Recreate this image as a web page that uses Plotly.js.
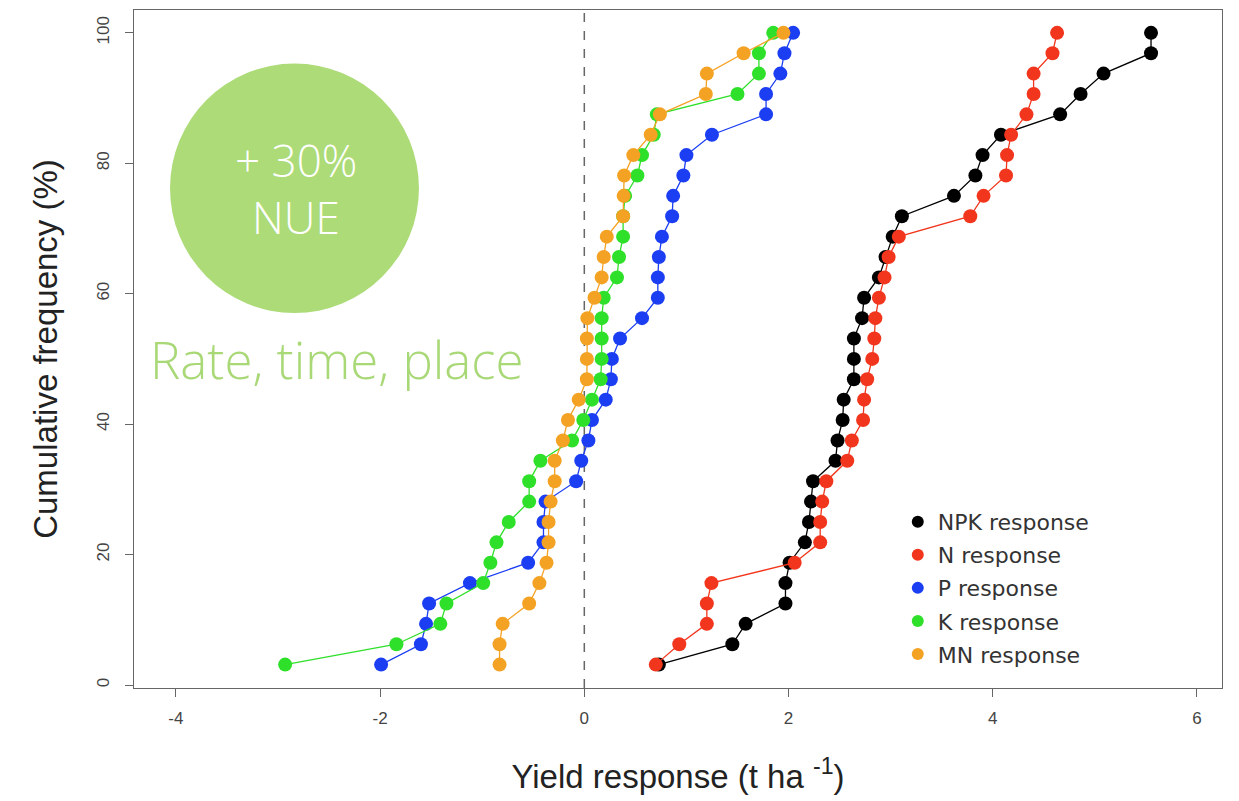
<!DOCTYPE html>
<html>
<head>
<meta charset="utf-8">
<script src="https://cdn.plot.ly/plotly-3.0.1.min.js"></script>
<style>html,body{margin:0;padding:0;background:#fff}#chart{width:1239px;height:801px}</style>
</head>
<body>
<div id="chart"></div>
<script>
const cumFreq = [3.125,6.25,9.375,12.5,15.625,18.75,21.875,25,28.125,31.25,34.375,37.5,40.625,43.75,46.875,50,53.125,56.25,59.375,62.5,65.625,68.75,71.875,75,78.125,81.25,84.375,87.5,90.625,93.75,96.875,100];
const npkResponse = [0.73,1.45,1.58,1.97,1.97,2.01,2.16,2.20,2.22,2.24,2.46,2.48,2.53,2.54,2.64,2.64,2.64,2.72,2.74,2.885,2.95,3.02,3.11,3.62,3.83,3.90,4.08,4.66,4.86,5.085,5.55,5.55];
const nResponse = [0.70,0.93,1.20,1.20,1.245,2.06,2.31,2.31,2.33,2.37,2.575,2.62,2.73,2.74,2.77,2.82,2.84,2.85,2.885,2.94,2.98,3.08,3.78,3.91,4.13,4.14,4.18,4.33,4.40,4.40,4.585,4.63];
const pResponse = [-1.99,-1.60,-1.55,-1.52,-1.12,-0.55,-0.40,-0.40,-0.38,-0.08,-0.03,0.04,0.075,0.21,0.26,0.27,0.35,0.565,0.72,0.72,0.73,0.76,0.86,0.87,0.97,1.00,1.25,1.78,1.78,1.92,1.96,2.045];
const kResponse = [-2.93,-1.84,-1.41,-1.35,-0.99,-0.92,-0.86,-0.74,-0.54,-0.54,-0.43,-0.12,-0.01,0.075,0.16,0.17,0.17,0.17,0.19,0.32,0.34,0.38,0.38,0.40,0.52,0.565,0.68,0.71,1.50,1.71,1.71,1.85];
const mnResponse = [-0.83,-0.83,-0.80,-0.54,-0.44,-0.37,-0.35,-0.35,-0.33,-0.29,-0.29,-0.21,-0.16,-0.055,0.025,0.025,0.025,0.03,0.10,0.17,0.19,0.22,0.38,0.385,0.39,0.48,0.65,0.74,1.19,1.20,1.56,1.95];

const seriesNames = ["NPK response","N response","P response","K response","MN response"];
const seriesValues = [npkResponse,nResponse,pResponse,kResponse,mnResponse];
const seriesColors = ["#000000","#f2361d","#1c3ef2","#2fe02a","#f4a223"];

const traces = [];
seriesNames.forEach((name,i)=>{
  traces.push({
    type:"scatter", mode:"lines", name:name, showlegend:false,
    x:seriesValues[i], y:cumFreq, legendgroup:"g"+i,
    line:{color:seriesColors[i], width:1.3}
  });
  traces.push({
    type:"scatter", mode:"markers", name:name, showlegend:true,
    x:seriesValues[i], y:cumFreq, legendgroup:"g"+i,
    marker:{color:seriesColors[i], size:14}
  });
});

const axisFont = {family:"Liberation Sans, Arial, sans-serif", size:17, color:"#444"};
const layout = {
  width:1239, height:801,
  margin:{l:134, r:17, t:10, b:113},
  paper_bgcolor:"#fff", plot_bgcolor:"#fff",
  showlegend:true,
  legend:{x:0.702, xanchor:"left", y:0.276, yanchor:"top", bgcolor:"rgba(0,0,0,0)",
    font:{family:"DejaVu Sans, sans-serif", size:22, color:"#333"},
    tracegroupgap:1.5, traceorder:"grouped", itemsizing:"constant"},
  xaxis:{range:[-4.41,6.245], tickvals:[-4,-2,0,2,4,6], ticktext:["-4","-2","0","2","4","6"],
    showgrid:false, zeroline:false, showline:true, mirror:true, linecolor:"#666", linewidth:1.2,
    ticks:"outside", ticklen:8, tickcolor:"#666", tickfont:axisFont, ticklabelstandoff:6,
    title:{text:"Yield response (t ha <sup>-1</sup>)", font:{family:"Liberation Sans, Arial, sans-serif", size:33, color:"#222"}, standoff:38}},
  yaxis:{range:[-0.46,103.5], tickvals:[0,20,40,60,80,100], ticktext:["0","20","40","60","80","100"],
    tickangle:-90,
    showgrid:false, zeroline:false, showline:true, mirror:true, linecolor:"#666", linewidth:1.2,
    ticks:"outside", ticklen:8, tickcolor:"#666", tickfont:axisFont, ticklabelstandoff:9,
    title:{text:"Cumulative frequency (%)", font:{family:"Liberation Sans, Arial, sans-serif", size:33, color:"#222"}, standoff:26}},
  shapes:[
    {type:"line", xref:"x", yref:"paper", x0:0, x1:0, y0:0, y1:1, line:{color:"#666", width:1.5, dash:"dash"}, layer:"below"},
    {type:"circle", xref:"paper", yref:"paper", x0:0.0331, x1:0.2619, y0:0.553, y1:0.921, fillcolor:"#acdb78", line:{width:0}}
  ],
  annotations:[
    {xref:"paper", yref:"paper", x:0.149, y:0.779, text:"+ 30%", showarrow:false, xanchor:"center", yanchor:"middle",
      font:{family:"Open Sans, Lato, sans-serif", size:44, weight:300, color:"#ffffff"}},
    {xref:"paper", yref:"paper", x:0.149, y:0.694, text:"NUE", showarrow:false, xanchor:"center", yanchor:"middle",
      font:{family:"Open Sans, Lato, sans-serif", size:44, weight:300, color:"#ffffff"}},
    {xref:"paper", yref:"paper", x:0.187, y:0.485, text:"Rate, time, place", showarrow:false, xanchor:"center", yanchor:"middle",
      font:{family:"Open Sans, Lato, sans-serif", size:51, weight:300, color:"#a9d877"}}
  ]
};
Plotly.newPlot("chart", traces, layout, {displayModeBar:false, staticPlot:true});
</script>
</body>
</html>
